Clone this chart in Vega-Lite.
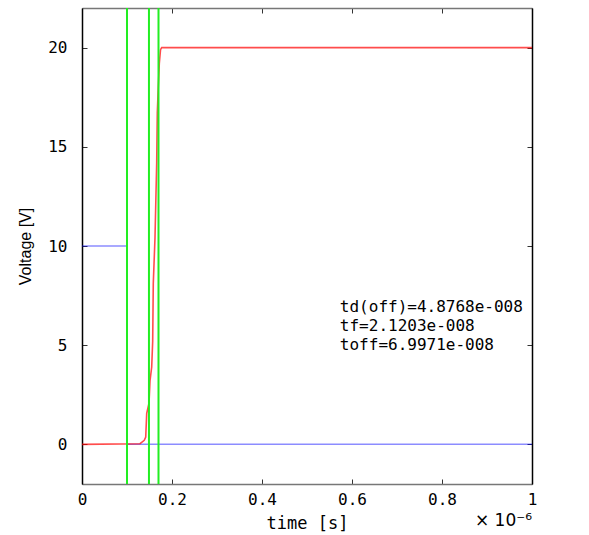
{
  "$schema": "https://vega.github.io/schema/vega-lite/v6.json",
  "width": 450,
  "height": 476,
  "autosize": {"type": "none"},
  "padding": {"left": 82, "top": 8, "right": 57, "bottom": 51},
  "background": "white",
  "config": {"view": {"stroke": null}, "font": "DejaVu Sans Mono"},
  "datasets": {
    "vds": [
      {"t": 0, "v": 0}, {"t": 0.1289, "v": 0.03}, {"t": 0.1384, "v": 0.2}, {"t": 0.1416, "v": 0.37},
      {"t": 0.1438, "v": 1.56}, {"t": 0.1489, "v": 2.07}, {"t": 0.1511, "v": 3.2}, {"t": 0.1549, "v": 3.9},
      {"t": 0.1571, "v": 5.2}, {"t": 0.1584, "v": 8.1}, {"t": 0.1622, "v": 10.4}, {"t": 0.166, "v": 14.2},
      {"t": 0.1673, "v": 16.7}, {"t": 0.1695, "v": 18.0}, {"t": 0.1718, "v": 19.2}, {"t": 0.1745, "v": 19.9},
      {"t": 0.1771, "v": 20}, {"t": 1, "v": 20}
    ],
    "vgs": [
      {"t": 0, "v": 10}, {"t": 0.1, "v": 10}, {"t": 0.1, "v": 0}, {"t": 1, "v": 0}
    ],
    "marks": [{"t": 0.1}, {"t": 0.1488}, {"t": 0.17}],
    "notes": [
      {"t": 0.573, "v": 6.9, "label": "td(off)=4.8768e-008"},
      {"t": 0.573, "v": 5.95, "label": "tf=2.1203e-008"},
      {"t": 0.573, "v": 5.0, "label": "toff=6.9971e-008"}
    ],
    "exp": [{"t": 1, "v": -2, "label": "× 10⁻⁶"}]
  },
  "resolve": {"axis": {"x": "independent", "y": "independent"}},
  "layer": [
    {
      "data": {"name": "vgs"},
      "mark": {"type": "line", "color": "#0000ff", "opacity": 0.45, "strokeWidth": 1.5},
      "encoding": {
        "x": {"field": "t", "type": "quantitative", "scale": {"domain": [0, 1], "nice": false, "zero": false},
          "axis": {"orient": "top", "labels": false, "title": null, "grid": false, "values": [0, 0.2, 0.4, 0.6, 0.8, 1],
            "tickSize": -5, "tickColor": "#333", "domainColor": "#777", "domainWidth": 1.5}},
        "y": {"field": "v", "type": "quantitative", "scale": {"domain": [-2, 22], "nice": false, "zero": false},
          "axis": {"orient": "right", "labels": false, "title": null, "grid": false, "values": [0, 5, 10, 15, 20],
            "tickSize": -5, "tickColor": "#333", "domainColor": "#000", "domainWidth": 1.5}},
        "order": {"value": 0}
      }
    },
    {
      "data": {"name": "vds"},
      "mark": {"type": "line", "color": "#ff0000", "opacity": 0.7, "strokeWidth": 1.6},
      "encoding": {
        "x": {"field": "t", "type": "quantitative", "scale": {"domain": [0, 1], "nice": false, "zero": false},
          "axis": {"orient": "bottom", "title": "time [s]", "grid": false, "values": [0, 0.2, 0.4, 0.6, 0.8, 1],
            "format": "~g", "labelFlush": false, "tickSize": -5, "tickColor": "#333", "domainColor": "#777", "domainWidth": 1.5,
            "labelFont": "DejaVu Sans Mono", "labelFontSize": 16, "labelColor": "#000", "labelPadding": 12,
            "titleFont": "DejaVu Sans Mono", "titleFontSize": 17, "titleFontWeight": "normal", "titleColor": "#000", "titlePadding": 8}},
        "y": {"field": "v", "type": "quantitative", "scale": {"domain": [-2, 22], "nice": false, "zero": false},
          "axis": {"orient": "left", "title": "Voltage [V]", "grid": false, "values": [0, 5, 10, 15, 20],
            "labelFlush": false, "tickSize": -5, "tickColor": "#333", "domainColor": "#000", "domainWidth": 1.5,
            "labelFont": "DejaVu Sans Mono", "labelFontSize": 16, "labelColor": "#000", "labelPadding": 20,
            "titleFont": "Liberation Sans", "titleFontSize": 16, "titleFontWeight": "normal", "titleColor": "#000", "titlePadding": 14}},
        "order": {"value": 0}
      }
    },
    {
      "data": {"name": "marks"},
      "mark": {"type": "rule", "color": "#22ee22", "strokeWidth": 2},
      "encoding": {
        "x": {"field": "t", "type": "quantitative", "axis": null}
      }
    },
    {
      "data": {"name": "notes"},
      "mark": {"type": "text", "align": "left", "baseline": "middle", "font": "DejaVu Sans Mono", "fontSize": 16, "color": "#000"},
      "encoding": {
        "x": {"field": "t", "type": "quantitative", "axis": null},
        "y": {"field": "v", "type": "quantitative", "axis": null},
        "text": {"field": "label"}
      }
    },
    {
      "data": {"name": "exp"},
      "mark": {"type": "text", "align": "right", "baseline": "middle", "font": "DejaVu Sans", "fontSize": 17, "color": "#000", "dy": 37},
      "encoding": {
        "x": {"field": "t", "type": "quantitative", "axis": null},
        "y": {"field": "v", "type": "quantitative", "axis": null},
        "text": {"field": "label"}
      }
    }
  ]
}
